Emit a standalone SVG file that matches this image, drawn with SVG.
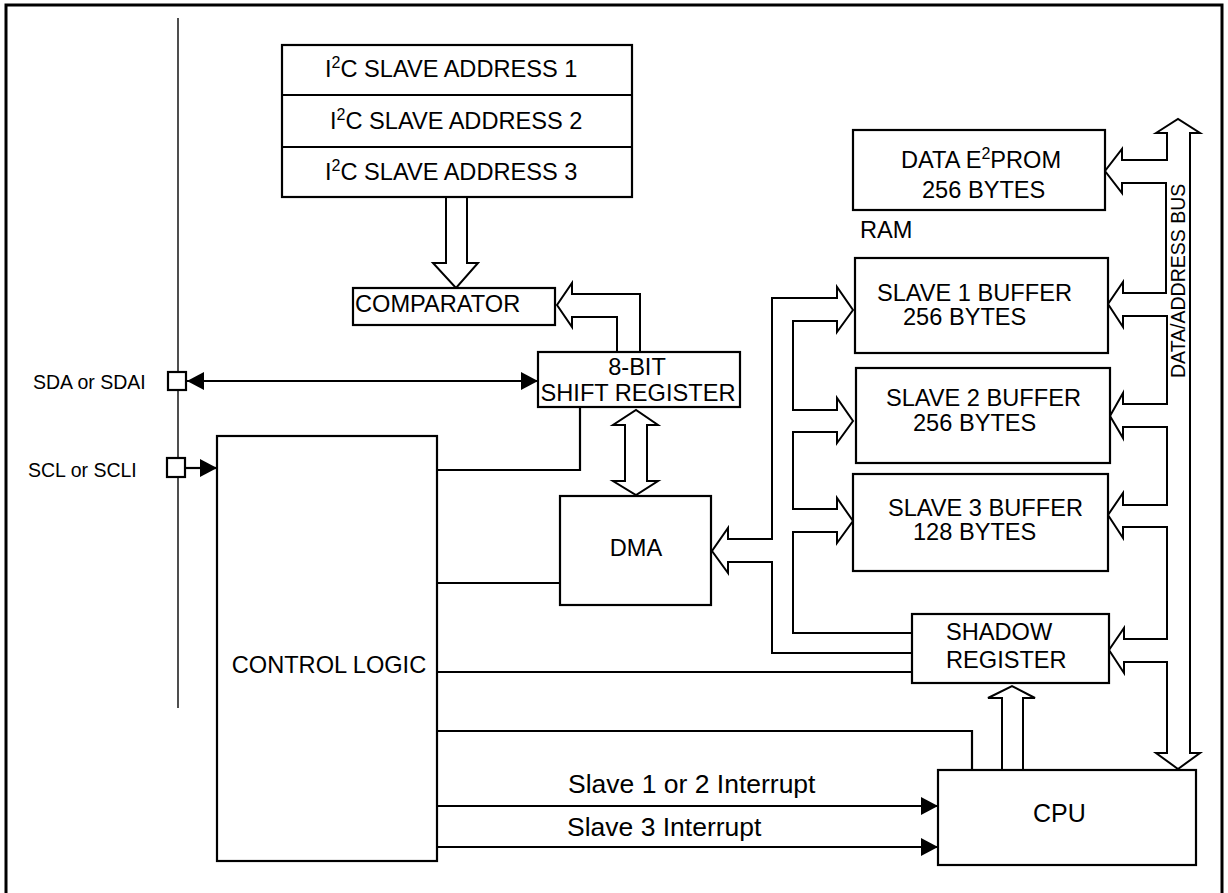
<svg xmlns="http://www.w3.org/2000/svg" width="1228" height="893" viewBox="0 0 1228 893">
<defs>
<style>
.box{fill:#fff;stroke:#000;stroke-width:2.2}
.ln{fill:none;stroke:#000;stroke-width:2.2}
.hol{fill:#fff;stroke:#000;stroke-width:2;stroke-linejoin:miter}
text{font-family:"Liberation Sans",Arial,sans-serif;fill:#000}
.t23{font-size:23.6px}
.t19{font-size:19.5px}
.t25{font-size:25px}
.t26{font-size:26.5px}
.sup{font-size:16px}
</style>
<marker id="ah" markerUnits="userSpaceOnUse" markerWidth="18" markerHeight="20" refX="17" refY="9" orient="auto-start-reverse">
<path d="M0,0 L17,9 L0,18 Z" fill="#000"/>
</marker>
</defs>
<rect width="1228" height="893" fill="#fff"/>
<path d="M6,893 V5 H1222 V893" fill="none" stroke="#000" stroke-width="3"/>
<line x1="178" y1="18" x2="178" y2="708" stroke="#222" stroke-width="1.6"/>

<g id="connectors">
<line class="ln" x1="187" y1="381" x2="538" y2="381" marker-start="url(#ah)" marker-end="url(#ah)"/>
<line class="ln" x1="185" y1="468" x2="217" y2="468" marker-end="url(#ah)"/>
<polyline class="ln" points="437,470 580,470 580,407"/>
<line class="ln" x1="437" y1="583" x2="562" y2="583"/>
<line class="ln" x1="437" y1="672" x2="912" y2="672"/>
<polyline class="ln" points="437,731 972,731 972,770"/>
<line class="ln" x1="434" y1="806" x2="938" y2="806" marker-end="url(#ah)"/>
<line class="ln" x1="437" y1="847" x2="938" y2="847" marker-end="url(#ah)"/>
<path class="hol" d="M446,197 V263 H433 L456,288 L478,263 H467 V197"/>
<path class="hol" d="M617,352 V317 H572 V327 L557,305 L572,283 V294 H640 V352"/>
<path class="hol" d="M625,425 H613 L636,410 L658,425 H647 V481 H658 L636,495 L613,481 H625 Z"/>
<path class="hol" d="M912,653 H772 V562 H728 V573 L712,551 L728,528 V539 H772 V298 H837 V287 L853,310 L837,332 V321 H793 V410 H837 V398 L853,421 L837,443 V432 H793 V509 H837 V498 L853,521 L837,543 V532 H793 V633 H912"/>
<path class="hol" d="M1002,769 V698 H988 L1012,686 L1035,698 H1023 V769"/>
<path class="hol" d="M1156,133 L1178,119 L1200,133 H1190 V753 H1200 L1178,769 L1156,753 H1167 V662 H1124 V673 L1109,650 L1124,628 V639 H1167 V527 H1123 V538 L1108,515 L1123,493 V505 H1167 V427 H1123 V438 L1110,416 L1123,393 V404 H1167 V316 H1123 V327 L1108,304 L1123,282 V293 H1166 V183 H1122 V193 L1105,171 L1122,149 V160 H1167 V133 Z"/>
<text class="t19" transform="translate(1185,378) rotate(-90)">DATA/ADDRESS BUS</text>
<text class="t26" x="568" y="793">Slave 1 or 2 Interrupt</text>
<text class="t26" x="567" y="836">Slave 3 Interrupt</text>
</g>

<g id="sda">
<rect class="box" x="168" y="372" width="18" height="18"/>
<text class="t19" x="33" y="389">SDA or SDAI</text>
</g>
<g id="scl">
<rect class="box" x="167" y="458" width="18" height="19"/>
<text class="t19" x="28" y="477">SCL or SCLI</text>
</g>

<g id="i2c-address">
<rect class="box" x="282" y="45" width="350" height="152"/>
<line class="ln" x1="282" y1="95" x2="632" y2="95"/>
<line class="ln" x1="282" y1="147" x2="632" y2="147"/>
<text class="t23" x="325" y="77">I<tspan class="sup" dy="-9">2</tspan><tspan dy="9">C SLAVE ADDRESS 1</tspan></text>
<text class="t23" x="330" y="129">I<tspan class="sup" dy="-9">2</tspan><tspan dy="9">C SLAVE ADDRESS 2</tspan></text>
<text class="t23" x="325" y="180">I<tspan class="sup" dy="-9">2</tspan><tspan dy="9">C SLAVE ADDRESS 3</tspan></text>
</g>

<g id="comparator">
<rect class="box" x="353" y="288" width="202" height="37"/>
<text class="t23" x="355" y="312">COMPARATOR</text>
</g>

<g id="shift-register">
<rect class="box" x="538" y="352" width="202" height="55"/>
<text class="t23" x="637" y="375" text-anchor="middle">8-BIT</text>
<text class="t23" x="638" y="401" text-anchor="middle">SHIFT REGISTER</text>
</g>

<g id="dma">
<rect class="box" x="560" y="496" width="151" height="109"/>
<text class="t23" x="636" y="556" text-anchor="middle">DMA</text>
</g>

<g id="control-logic">
<rect class="box" x="217" y="436" width="220" height="425"/>
<text class="t23" x="329" y="673" text-anchor="middle">CONTROL LOGIC</text>
</g>

<g id="eeprom">
<rect class="box" x="853" y="130" width="252" height="80"/>
<text class="t23" x="901" y="168">DATA E<tspan class="sup" dy="-9">2</tspan><tspan dy="9">PROM</tspan></text>
<text class="t23" x="922" y="198">256 BYTES</text>
</g>

<g id="ram-label">
<text class="t23" x="860" y="238">RAM</text>
</g>

<g id="slave1">
<rect class="box" x="855" y="258" width="253" height="95"/>
<text class="t23" x="877" y="301">SLAVE 1 BUFFER</text>
<text class="t23" x="903" y="325">256 BYTES</text>
</g>

<g id="slave2">
<rect class="box" x="856" y="368" width="254" height="95"/>
<text class="t23" x="886" y="406">SLAVE 2 BUFFER</text>
<text class="t23" x="913" y="431">256 BYTES</text>
</g>

<g id="slave3">
<rect class="box" x="853" y="474" width="255" height="97"/>
<text class="t23" x="888" y="516">SLAVE 3 BUFFER</text>
<text class="t23" x="913" y="540">128 BYTES</text>
</g>

<g id="shadow-register">
<rect class="box" x="912" y="614" width="197" height="69"/>
<text class="t23" x="946" y="640">SHADOW</text>
<text class="t23" x="946" y="668">REGISTER</text>
</g>

<g id="cpu">
<rect class="box" x="938" y="770" width="258" height="95"/>
<text class="t25" x="1033" y="822">CPU</text>
</g>
</svg>
